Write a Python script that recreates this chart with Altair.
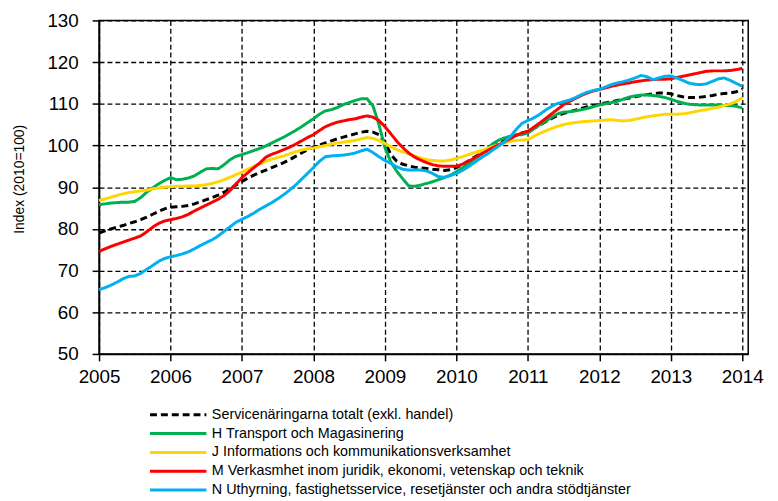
import altair as alt
import pandas as pd

series_names = [
    "Servicenäringarna totalt (exkl. handel)",
    "H Transport och Magasinering",
    "J Informations och kommunikationsverksamhet",
    "M Verkasmhet inom juridik, ekonomi, vetenskap och teknik",
    "N Uthyrning, fastighetsservice, resetjänster och andra stödtjänster",
]
colors = ["#000000", "#00B050", "#FFD700", "#FF0000", "#00B0F0"]
dashes = [[7, 4], [1, 0], [1, 0], [1, 0], [1, 0]]

start_year = 2005
year_ticks = list(range(2005, 2015))
y_ticks = list(range(50, 131, 10))

total = [
    79.0, 79.5, 80.0, 80.4, 80.8, 81.3, 81.7, 82.2, 82.8, 83.5, 84.2, 84.8,
    85.2, 85.3, 85.4, 85.6, 86.0, 86.5, 87.0, 87.5, 88.1, 88.8, 89.6, 90.5,
    91.4, 92.2, 92.9, 93.5, 94.1, 94.7, 95.3, 95.9, 96.6, 97.4, 98.2, 99.0,
    99.6, 100.1, 100.6, 101.1, 101.6, 102.0, 102.4, 102.8, 103.2, 103.4, 103.2, 102.6,
    100.8, 97.8, 96.2, 95.5, 95.1, 94.8, 94.6, 94.5, 94.3, 94.2, 94.0, 94.2,
    94.7, 95.4, 96.3, 97.2, 98.0, 98.8, 99.6, 100.4, 101.1, 101.8, 102.5, 103.0,
    103.4, 104.1, 104.9, 105.7, 106.5, 107.2, 107.7, 108.1, 108.5, 108.9, 109.3, 109.6,
    109.9, 110.2, 110.5, 110.8, 111.1, 111.4, 111.7, 112.0, 112.2, 112.4, 112.6, 112.6,
    112.4, 112.0, 111.7, 111.5, 111.5, 111.6, 111.8, 112.0, 112.3, 112.5, 112.6, 112.9,
    113.5,
]
transport = [
    85.8, 86.0, 86.2, 86.3, 86.4, 86.4, 86.6, 87.5, 88.8, 89.8, 90.8, 91.6,
    92.3, 91.8, 91.9, 92.2, 92.7, 93.6, 94.4, 94.5, 94.4, 95.4, 96.6, 97.4,
    97.8, 98.3, 98.8, 99.3, 99.9, 100.6, 101.3, 102.0, 102.8, 103.6, 104.5, 105.5,
    106.4, 107.5, 108.3, 108.6, 109.1, 109.8, 110.3, 110.8, 111.2, 111.2, 109.5, 105.0,
    99.5, 96.0, 93.8, 92.0, 90.3, 90.2, 90.5, 90.9, 91.3, 91.8, 92.3, 92.9,
    93.7, 94.6, 95.6, 96.7, 97.8, 99.0, 100.3, 101.2, 101.8, 102.2, 102.5, 102.6,
    103.0, 104.0, 105.0, 105.8, 106.8, 107.6, 108.0, 108.1, 108.3, 108.6, 108.9, 109.3,
    109.7, 110.0, 110.3, 110.6, 111.1, 111.6, 111.9, 112.1, 112.1, 112.0, 111.8, 111.5,
    111.1, 110.6, 110.2, 109.9, 109.8, 109.7, 109.7, 109.7, 109.7, 109.6, 109.6, 109.4,
    109.0,
]
info = [
    86.8, 87.2, 87.6, 88.0, 88.4, 88.7, 88.9, 89.1, 89.3, 89.6, 89.8, 90.0,
    90.1, 90.2, 90.2, 90.3, 90.3, 90.4, 90.6, 90.9, 91.3, 91.8, 92.4, 93.0,
    93.6, 94.3, 95.0, 95.6, 96.2, 96.7, 97.1, 97.5, 98.0, 98.5, 98.9, 99.2,
    99.4, 99.7, 100.0, 100.3, 100.6, 100.8, 101.0, 101.2, 101.6, 101.9, 101.7, 101.2,
    100.5, 99.7, 99.0, 98.5, 98.0, 97.5, 97.0, 96.6, 96.4, 96.3, 96.3, 96.5,
    96.9, 97.3, 97.8, 98.3, 98.7, 99.2, 99.7, 100.2, 100.6, 101.0, 101.2, 101.3,
    101.4, 102.2, 102.9, 103.5, 104.1, 104.6, 105.0, 105.3, 105.5, 105.7, 105.8, 105.9,
    106.0, 106.1, 106.2, 106.0, 105.9, 106.0, 106.3, 106.6, 106.9, 107.1, 107.3, 107.5,
    107.5, 107.5, 107.6, 107.8, 108.1, 108.4, 108.6, 108.9, 109.2, 109.6, 110.0, 110.6,
    111.5,
]
juridik = [
    74.6, 75.2, 75.8, 76.3, 76.8, 77.3, 77.8, 78.3, 79.3, 80.4, 81.3, 81.9,
    82.2, 82.5, 82.9, 83.5, 84.3, 85.0, 85.7, 86.4, 87.1, 88.0, 89.2, 90.8,
    92.3, 93.5, 94.7, 95.8, 97.2, 97.9, 98.4, 99.0, 99.6, 100.3, 101.1, 101.9,
    102.6, 103.6, 104.5, 105.1, 105.6, 105.9, 106.2, 106.4, 106.8, 107.1, 106.8, 106.0,
    104.5, 102.8, 101.0, 99.5, 98.2, 97.2, 96.5, 95.9, 95.4, 95.1, 95.0, 95.0,
    95.0, 95.5, 96.2, 97.0, 97.8, 98.6, 99.4, 100.1, 100.8, 101.6, 102.4, 103.0,
    103.4, 104.4, 105.4, 106.5, 107.6, 108.7, 109.8, 110.6, 111.3, 112.0, 112.6, 113.1,
    113.4, 113.8, 114.2, 114.5, 114.8, 115.0, 115.3, 115.5, 115.7, 115.8, 115.9, 115.9,
    116.0, 116.3, 116.6, 116.9, 117.2, 117.5, 117.8, 117.9, 117.9, 117.9, 118.0, 118.2,
    118.5,
]
uthyrning = [
    65.4, 65.9, 66.5, 67.2, 68.0, 68.6, 68.7, 69.3, 70.3, 71.2, 72.2, 72.9,
    73.3, 73.6, 74.0, 74.5, 75.2, 76.0, 76.7, 77.4, 78.3, 79.4, 80.5, 81.6,
    82.3, 83.0, 83.8, 84.7, 85.5, 86.3, 87.2, 88.2, 89.3, 90.5, 91.9, 93.3,
    94.7, 96.2, 97.3, 97.5, 97.6, 97.7, 97.9, 98.2, 98.7, 99.1, 98.3, 97.3,
    96.4, 95.7, 94.9, 94.3, 94.1, 94.1, 94.1, 93.9, 93.3, 92.5, 92.4, 92.8,
    93.3, 94.0, 94.9, 95.9, 96.9, 97.8, 98.8, 99.8, 100.8, 102.0, 103.8, 105.3,
    106.0, 106.6, 107.5, 108.5, 109.4, 110.1, 110.5, 110.9, 111.5, 112.2, 112.8, 113.2,
    113.5, 114.0, 114.6, 115.0, 115.3, 115.7, 116.2, 116.8, 116.5, 115.8, 116.2, 116.6,
    116.7, 116.2, 115.6, 115.0, 114.7, 114.6, 114.8, 115.4, 116.0, 116.2, 115.6, 114.9,
    114.2,
]

rows = []
for order, (name, vals) in enumerate(zip(series_names, [total, transport, info, juridik, uthyrning])):
    for i, v in enumerate(vals):
        rows.append({"t": start_year + i / 12.0, "v": v, "series": name, "order": order})
df = pd.DataFrame(rows)

FONT = "Liberation Sans"

legend = alt.Legend(
    title=None,
    orient="none",
    legendX=50,
    legendY=390,
    direction="vertical",
    symbolType="stroke",
    symbolSize=3249,
    symbolStrokeWidth=3,
    clipHeight=17,
    rowPadding=2,
    labelFont=FONT,
    labelFontSize=14.5,
    labelColor="black",
    labelOffset=4,
    labelLimit=600,
)

x_enc = alt.X(
    "t:Q",
    scale=alt.Scale(domain=[2005, 2014 + 1 / 12.0], nice=False, zero=False),
    axis=alt.Axis(
        values=year_ticks, format="d", title=None,
        grid=True, gridColor="black", gridDash=[5, 3], gridOpacity=1, gridWidth=1.3,
        domainColor="black", domainWidth=1.5, tickColor="black", tickSize=7, tickWidth=1.5,
        labelFont=FONT, labelFontSize=19, labelColor="black", labelPadding=7,
        labelFlush=False, labelOverlap=False,
    ),
)
y_enc = alt.Y(
    "v:Q",
    scale=alt.Scale(domain=[50, 130], nice=False, zero=False),
    axis=alt.Axis(
        values=y_ticks, title="Index (2010=100)",
        grid=True, gridColor="black", gridDash=[5, 3], gridOpacity=1, gridWidth=1.3,
        domainColor="black", domainWidth=1.5, tickColor="black", tickSize=7, tickWidth=1.5,
        labelFont=FONT, labelFontSize=19, labelColor="black", labelPadding=14,
        titleFont=FONT, titleFontSize=14, titleFontWeight="normal", titleColor="black",
        titleX=-73, titleY=160, titleBaseline="bottom", titleAngle=270,
    ),
)

chart = (
    alt.Chart(df)
    .mark_line(strokeWidth=3)
    .encode(
        x=x_enc,
        y=y_enc,
        color=alt.Color("series:N", scale=alt.Scale(domain=series_names, range=colors), legend=legend),
        strokeDash=alt.StrokeDash("series:N", scale=alt.Scale(domain=series_names, range=dashes), legend=legend),
        order=alt.Order("order:Q"),
    )
    .properties(
        width=656,
        height=337,
        autosize=alt.AutoSizeParams(type="none"),
        padding={"left": 92, "top": 10, "right": 22, "bottom": 143},
        background="white",
    )
    .configure_view(stroke="black", strokeWidth=1.5)
)

chart.save("out.html", embed_options={"renderer": "svg", "actions": False})
